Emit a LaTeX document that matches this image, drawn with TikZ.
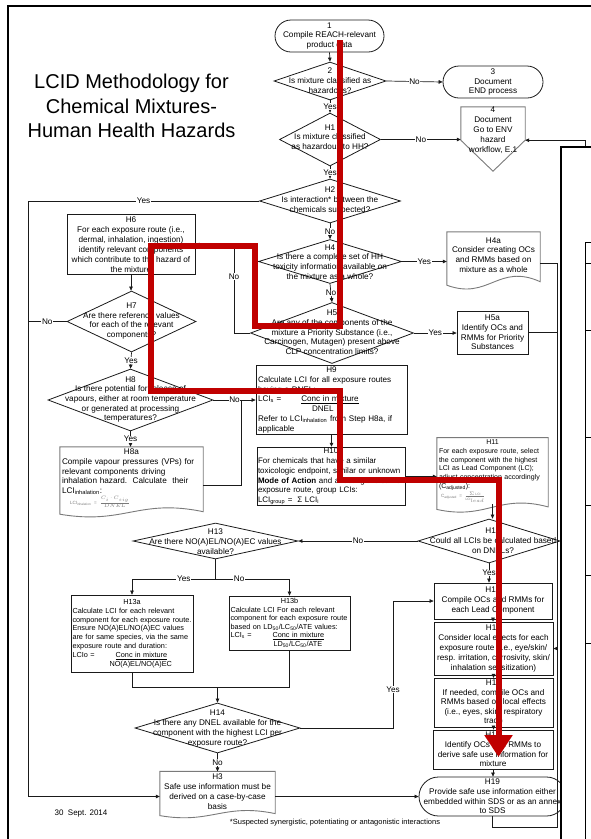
\documentclass[tikz,border=0pt]{standalone}
\usepackage{fontspec}
\setmainfont{Liberation Sans}
\usetikzlibrary{shapes.geometric,arrows.meta,calc}

\definecolor{inkline}{HTML}{1A1A1A}
\definecolor{docgray}{HTML}{7A7A7A}
\definecolor{pathred}{HTML}{C00000}

\tikzset{
  txt/.style={font=\fontsize{8.2}{9.7}\selectfont, align=center, inner sep=0pt},
  procbox/.style={draw=inkline, line width=0.8pt, rectangle, inner sep=2pt,
    font=\fontsize{8.2}{9.7}\selectfont, align=center},
  termbox/.style={procbox, rounded corners=#1},
  decide/.style={draw=inkline, line width=0.8pt, diamond, inner sep=0pt},
  docbox/.style={rectangle, inner sep=2pt, font=\fontsize{8.2}{9.7}\selectfont, align=center},
  docline/.style={draw=docgray, line width=0.9pt},
  flow/.style={draw=inkline, line width=0.7pt},
  arr/.style={flow, -{Triangle[length=4pt,width=3.6pt]}},
  tag/.style={fill=white, inner sep=0.6pt, font=\fontsize{8.2}{9.7}\selectfont},
}

% outline of a document symbol (wavy lower edge) around a node
\newcommand\docoutline[2]{%
  \draw[docline] (#1.north west) -- (#1.north east) -- ($(#1.south east)+(0,0.5*#2)$)
    .. controls ($(#1.south west)!0.55!(#1.south east)+(0,-2.2*#2)$)
           and ($(#1.south west)!0.45!(#1.south east)+(0,3.2*#2)$) ..
    ($(#1.south west)+(0,#2)$) -- cycle;}

\begin{document}
\begin{tikzpicture}[x=1pt,y=-1pt]
\useasboundingbox (0,0) rectangle (590,839);

% page frame
\draw[line width=2.2pt] (8,842) -- (8,6) -- (592,6);

% title
\node[txt, font=\fontsize{20}{24.5}\selectfont] (title) at (131.5,106) {LCID Methodology for\\Chemical Mixtures-\\Human Health Hazards};

% ---------- main column ----------
\node[termbox=16pt, minimum width=109pt, minimum height=32pt] (n1) at (329.5,36) {1\\Compile REACH-relevant\\product data};

\node[decide, minimum width=112pt, minimum height=38pt] (n2) at (330,81) {};
\node[txt] (n2t) at (330,80.5) {2\\Is mixture classified as\\hazardous?};

\node[termbox=16pt, minimum width=100pt, minimum height=32pt] (n3) at (493,82) {3\\Document\\END process};

\node[minimum width=64pt, minimum height=33pt, inner sep=0pt] (n4) at (493,123.5) {};
\draw[docline] (n4.north west) -- (n4.north east) -- (n4.south east) -- ($(n4.south)+(0,31)$) -- (n4.south west) -- cycle;
\node[txt, font=\fontsize{8.2}{10}\selectfont] (n4t) at (493,130.5) {4\\Document\\Go to ENV\\hazard\\workflow, E.1};

\node[decide, minimum width=101pt, minimum height=53pt] (h1) at (330,139.5) {};
\node[txt] (h1t) at (330,137) {H1\\Is mixture classified\\as hazardous to HH?};

\node[decide, minimum width=141pt, minimum height=44pt] (h2) at (330,201) {};
\node[txt] (h2t) at (330,200.5) {H2\\Is interaction* between the\\chemicals suspected?};

\node[decide, minimum width=143pt, minimum height=44pt] (h4) at (330,261.5) {};
\node[txt] (h4t) at (330,262) {H4\\Is there a complete set of HH\\toxicity information available on\\the mixture as a whole?};

\node[docbox, minimum width=93pt, minimum height=46pt] (h4a) at (493.5,255) {H4a\\Consider creating OCs\\and RMMs based on\\mixture as a whole};
\docoutline{h4a}{7}

\node[decide, minimum width=163pt, minimum height=61pt] (h5) at (332,333) {};
\node[txt] (h5t) at (332,332.5) {H5\\Are any of the components of the\\mixture a Priority Substance (i.e.,\\Carcinogen, Mutagen) present above\\CLP concentration limits?};

\node[procbox, minimum width=71pt, minimum height=43pt] (h5a) at (492.5,332.5) {H5a\\Identify OCs and\\RMMs for Priority\\Substances};

\node[procbox, minimum width=128pt, minimum height=59pt, font=\fontsize{8.2}{10}\selectfont] (h6) at (131,244.5) {H6\\For each exposure route (i.e.,\\dermal, inhalation, ingestion)\\identify relevant components\\which contribute to the hazard of\\the mixture};

\node[decide, minimum width=129pt, minimum height=61pt] (h7) at (131.5,321.5) {};
\node[txt] (h7t) at (131.5,321) {H7\\Are there reference values\\for each of the relevant\\components?};

\node[decide, minimum width=165pt, minimum height=62pt] (h8) at (130.5,400) {};
\node[txt] (h8t) at (130.5,399.5) {H8\\Is there potential for release of\\vapours, either at room temperature\\or generated at processing\\temperatures?};

\node[docbox, minimum width=143pt, minimum height=60pt, text width=139pt, align=left] (h8a) at (131.5,478) {\makebox[\hsize]{H8a}\\Compile vapour pressures (VPs) for\\relevant components driving\\inhalation hazard.\ \ Calculate\ \ their\\LCI\textsubscript{inhalation}:\\[1pt]\hspace*{8pt}{\color{docgray}\fontsize{4.6}{5}\selectfont LCI\textsubscript{inhalation} = $\frac{C_i \,\cdot\, C_{sig}}{DNEL}$}};
\docoutline{h8a}{5}

\node[procbox, minimum width=151pt, minimum height=64pt, text width=147pt, align=left, font=\fontsize{8.1}{9.7}\selectfont] (h9) at (331.5,400) {\makebox[\hsize]{H9}\\Calculate LCI for all exposure routes\\having a DNEL:\\LCI\textsubscript{s} =\hspace{20pt}\underline{Conc in mixture}\\\hspace*{54pt}DNEL\\Refer to LCI\textsubscript{inhalation} from Step H8a, if\\applicable};

\node[procbox, minimum width=148pt, minimum height=57pt, text width=146pt, inner sep=1pt, align=left, font=\fontsize{7.95}{9.8}\selectfont] (h10) at (331,476.5) {\makebox[\hsize]{H10}\\For chemicals that have a similar\\toxicologic endpoint, similar or unknown\\\textbf{Mode of Action} and affecting the same\\exposure route, group LCIs:\\LCI\textsubscript{group} =\hspace{5pt}Σ LCI\textsubscript{i}};

\node[docbox, minimum width=111pt, minimum height=64pt, text width=107pt, align=left, font=\fontsize{7}{8.7}\selectfont] (h11) at (492.5,471) {\makebox[\hsize]{H11}\\For each exposure route, select\\the component with the highest\\LCI as Lead Component (LC);\\adjust concentration accordingly\\(C\textsubscript{adjusted}):\\[1pt]\hspace*{2pt}{\color{docgray}\fontsize{4.6}{5}\selectfont C\textsubscript{adjusted} = $\frac{\Sigma\,\mathrm{LCI}}{\mathrm{LCI}_{lead}}$}};
\docoutline{h11}{5}

\node[decide, minimum width=142pt, minimum height=44pt] (h12) at (489,541) {};
\node[txt] (h12t) at (493,540.5) {H12\\Could all LCIs be calculated based\\on DNELs?};

\node[decide, minimum width=165pt, minimum height=36pt] (h13) at (215.5,541) {};
\node[txt] (h13t) at (215.5,541.5) {H13\\Are there NO(A)EL/NO(A)EC values\\available?};

\node[procbox, minimum width=122pt, minimum height=77pt, text width=119pt, inner sep=1.5pt, align=left, font=\fontsize{7.3}{8.8}\selectfont] (h13a) at (132,633.5) {\makebox[\hsize]{H13a}\\Calculate LCI for each relevant\\component for each exposure route.\\Ensure NO(A)EL/NO(A)EC values\\are for same species, via the same\\exposure route and duration:\\LCIo =\hspace{21pt}\underline{Conc in mixture}\\\hspace*{37pt}NO(A)EL/NO(A)EC};

\node[procbox, minimum width=121pt, minimum height=54pt, text width=118pt, inner sep=1.5pt, align=left, font=\fontsize{7.3}{8.6}\selectfont] (h13b) at (289.5,623) {\makebox[\hsize]{H13b}\\Calculate LCI For each relevant\\component for each exposure route\\based on LD\textsubscript{50}/LC\textsubscript{50}/ATE values:\\LCI\textsubscript{s} =\hspace{21pt}\underline{Conc in mixture}\\\hspace*{43pt}LD\textsubscript{50}/LC\textsubscript{50}/ATE};

\node[decide, minimum width=165pt, minimum height=50pt] (h14) at (217.5,728) {};
\node[txt] (h14t) at (217.5,728.5) {H14\\Is there any DNEL available for the\\component with the highest LCI per\\exposure route?};

\node[docbox, minimum width=115pt, minimum height=37pt, font=\fontsize{8.2}{10}\selectfont] (h3) at (217.5,791.5) {H3\\Safe use information must be\\derived on a case-by-case\\basis};
\docoutline{h3}{4}

% ---------- right column ----------
\node[procbox, minimum width=118pt, minimum height=36pt, font=\fontsize{8.2}{10}\selectfont] (h15) at (493,601) {H15\\Compile OCs and RMMs for\\each Lead Component};
\node[procbox, minimum width=119pt, minimum height=53pt, font=\fontsize{8.2}{10}\selectfont] (h16) at (493.5,648.5) {H16\\Consider local effects for each\\exposure route (i.e., eye/skin/\\resp. irritation, corrosivity, skin/\\inhalation sensitization)};
\node[procbox, minimum width=119pt, minimum height=46pt, font=\fontsize{8.2}{9.5}\selectfont] (h17) at (493.5,703) {H17\\If needed, compile OCs and\\RMMs based on local effects\\(i.e., eyes, skin, respiratory\\tract)};
\node[procbox, minimum width=120pt, minimum height=39pt] (h18) at (493,749.5) {H18\\Identify OCs and RMMs to\\derive safe use information for\\mixture};
\node[termbox=19.5pt, minimum width=147pt, minimum height=39pt] (h19) at (492.5,796.5) {H19\\Provide safe use information either\\embedded within SDS or as an annex\\to SDS};

% ---------- connectors ----------
\draw[arr] (n1.south) -- (n2.north);
\draw[arr] (n2.east) -- node[tag] (l1) {No} (n3.west);
\draw[arr] (n2.south) -- node[tag] (l2) {Yes} (h1.north);
\draw[arr] (h1.east) -- node[tag] (l3) {No} (h1.east -| n4.west);
\draw[arr] (h1.south) -- node[tag] (l4) {Yes} (h2.north);
\draw[arr] (h2.south) -- node[tag] (l5) {No} (h4.north);
\draw[arr] (h4.east) -- node[tag] (l6) {Yes} (h4.east -| h4a.west);
\draw[arr] (h4.south) -- node[tag] (l7) {No} (h5.north);
\draw[arr] (h5.east) -- node[tag] (l8) {Yes} (h5.east -| h5a.west);

\coordinate (lb) at (28,201);
\draw[arr] (h2.west) -- node[tag] (l9) {Yes} (lb) |- (h3.west |- h19.west);
\draw[flow] (h7.west) -- node[tag] (l10) {No} (lb |- h7.west);

\coordinate (nb) at (234,333);
\draw[arr] (h5.west) -- (nb) |- node[tag, pos=0.32] (l11) {No} (h6.east);

\draw[arr] (h6.south) -- (h6.south |- h7.north);
\draw[arr] (h7.south) -- node[tag] (l12) {Yes} (h8.north);
\draw[arr] (h8.east) -- node[tag] (l13) {No} (h8.east -| h9.west);
\draw[arr] (h8.south) -- node[tag] (l14) {Yes} (h8.south |- h8a.north);
\coordinate (jn) at (241,400);
\draw[flow] ($(h8a.east)+(0,7)$) -| (jn);

\draw[arr] (h9.south) -- (h9.south |- h10.north);
\draw[arr] (h10.east) -- (h10.east -| h11.west);
\draw[arr] (h11.south) -- (h11.south |- h12.north);
\draw[arr] (h12.west) -- node[tag] (l15) {No} (h13.east);
\draw[arr] (h12.south) -- node[tag] (l16) {Yes} (h12.south |- h15.north);

\coordinate (sp) at (215.5,579);
\draw[flow] (h13.south) -- (sp);
\draw[arr] (sp) -| node[tag, pos=0.19] (l17) {Yes} (h13a.north);
\draw[arr] (sp) -| node[tag, pos=0.16] (l18) {No} (h13b.north);

\coordinate (jm) at (217.5,687);
\draw[flow] (h13a.south) |- (jm);
\draw[flow] (h13b.south) |- (jm);
\draw[arr] (jm) -- (h14.north);

\draw[arr] (h14.south) -- node[tag] (l19) {No} (h3.north);
\coordinate (yy) at (393,728);
\draw[arr] (h14.east) -- (yy) |- node[tag, pos=0.15] (l20) {Yes} (h15.west);
\draw[arr] (h3.east |- h19.west) -- (h19.west);

\draw[arr] (h15.south) -- (h15.south |- h16.north);
\draw[arr] (h16.south) -- (h16.south |- h17.north);
\draw[arr] (h17.south) -- (h17.south |- h18.north);
\draw[arr] (h18.south) -- (h18.south |- h19.north);

\coordinate (bus) at (557,827);
\coordinate (bustop) at (557,263);
\draw[flow] (h19.south) |- (bus) -- (bustop);
\draw[flow] ($(h4a.east)+(0,8)$) -- (bustop);
\draw[flow] (h5a.east) -- (h5a.east -| bus);
\draw[arr] (h16.east -| bus) -- (h16.east);
\coordinate (tr) at (585,147);
\draw[arr] (tr) |- (n4.south east);

% notes
\node[txt, font=\fontsize{8}{9}\selectfont] (date) at (81,814) {30\ \ Sept. 2014};
\node[txt, font=\fontsize{7.5}{9}\selectfont] (note) at (335,823) {*Suspected synergistic, potentiating or antagonistic interactions};

% sheet lying over the right edge
\fill[white] (561,147) rectangle (594,842);
\draw[line width=1.8pt] (561,842) -- (561,147) -- (594,147);
\draw[line width=0.8pt] (592,242) -- (585,242) -- (585,842);
\foreach \yy in {263,330,437,505,575,643} \draw[line width=0.8pt] (585,\yy) -- (592,\yy);

% highlighted route
\draw[pathred, line width=6pt, line join=miter, -{Triangle[length=22pt,width=27pt]}]
  (339.5,40) -- (339.5,325.5) -- (254.5,325.5) -- (254.5,245.5) -- (151,245.5) -- (151,391)
  -- (340,391) -- (340,480) -- (498.5,480) -- (498.5,757);
\end{tikzpicture}
\end{document}
